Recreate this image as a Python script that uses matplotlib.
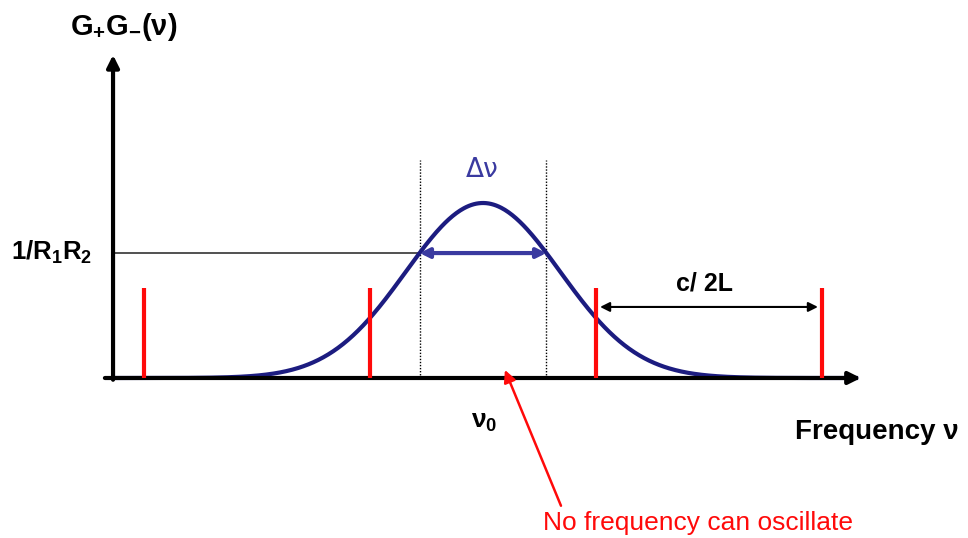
import numpy as np
import matplotlib
matplotlib.use("Agg")
import matplotlib.pyplot as plt

plt.rcParams['font.family'] = ['Liberation Sans', 'DejaVu Sans']
plt.rcParams['mathtext.fontset'] = 'custom'
plt.rcParams['mathtext.rm'] = 'Liberation Sans:bold'
plt.rcParams['mathtext.bf'] = 'Liberation Sans:bold'
plt.rcParams['mathtext.it'] = 'Liberation Sans:bold'

# ---- data (frequency in units of mode spacing c/2L, gain normalized to peak) ----
nu0 = 0.0
gain_peak = 1.0
gain_sigma = 0.342
threshold = 0.714            # 1/R1R2 level
mode_freqs = [-1.5, -0.5, 0.5, 1.5]
mode_heights = [0.514, 0.514, 0.514, 0.514]
nu_min, nu_max = -1.637, 1.66

fig = plt.figure(figsize=(9.68, 5.38), dpi=100)
ax = fig.add_axes([0, 0, 1, 1])
ax.set_xlim((0 - 483) / 226, (968 - 483) / 226)
ax.set_ylim((378 - 538) / 175, 378 / 175)
ax.axis('off')

navy = '#1c1c80'
arrow_blue = '#3a3aa0'
red = '#ff0a0a'

# Gain curve
nu = np.linspace(nu_min, nu_max, 600)
g = gain_peak * np.exp(-(nu - nu0) ** 2 / (2 * gain_sigma ** 2))
ax.plot(nu, g, color=navy, lw=3, zorder=3, solid_capstyle='butt')

# Crossing points with threshold
half = gain_sigma * np.sqrt(2 * np.log(gain_peak / threshold))
x_left, x_right = nu0 - half, nu0 + half

# axes arrows
x_axis_start = -1.673
y_axis_x = -1.637
ax.annotate('', xy=(1.672, 0), xytext=(x_axis_start, 0),
            arrowprops=dict(arrowstyle='-|>', lw=3, color='black',
                            mutation_scale=18, shrinkA=0, shrinkB=0), zorder=4)
ax.annotate('', xy=(y_axis_x, 1.846), xytext=(y_axis_x, -0.01),
            arrowprops=dict(arrowstyle='-|>', lw=3, color='black',
                            mutation_scale=18, shrinkA=0, shrinkB=0), zorder=4)

# Threshold line
ax.plot([y_axis_x, x_left], [threshold, threshold], color='#333333', lw=1.2, zorder=2)

# dotted vertical lines
for xv in (x_left, x_right):
    ax.plot([xv, xv], [0, 1.246], color='black', lw=1, ls=(0, (1, 1.2)), zorder=2)

# Δν arrow
ax.annotate('', xy=(x_right, threshold), xytext=(x_left, threshold),
            arrowprops=dict(arrowstyle='<|-|>', lw=3, color=arrow_blue,
                            mutation_scale=14, shrinkA=0, shrinkB=0), zorder=5)

# Mode lines
for f, h in zip(mode_freqs, mode_heights):
    ax.plot([f, f], [0, h], color=red, lw=3, zorder=4, solid_capstyle='butt')

# c/2L arrow
ax.annotate('', xy=(1.482, 0.406), xytext=(0.518, 0.406),
            arrowprops=dict(arrowstyle='<|-|>', lw=1.5, color='black',
                            mutation_scale=14, shrinkA=0, shrinkB=0), zorder=5)

# Red annotation arrow
ax.annotate('', xy=(0.097, 0.046), xytext=(0.345, -0.73),
            arrowprops=dict(arrowstyle='-|>', lw=1.8, color=red,
                            mutation_scale=18, shrinkA=0, shrinkB=0), zorder=6)

# Texts
ax.text((124 - 483) / 226, (378 - 27) / 175, r'$\mathrm{G_{+}G_{-}(}\nu\mathrm{)}$',
        fontsize=21, ha='center', va='center')
ax.text((92 - 483) / 226, (378 - 252) / 175, r'$\mathrm{1/R_{1}R_{2}}$', fontsize=18.5,
        ha='right', va='center')
ax.text((482 - 483) / 226, (378 - 170) / 175, 'Δν', fontsize=19, color=arrow_blue,
        ha='center', va='center', family=['DejaVu Sans'])
ax.text((704 - 483) / 226, (378 - 283) / 175, 'c/ 2L', fontsize=18, fontweight='bold',
        ha='center', va='center')
ax.text((484 - 483) / 226, (378 - 422) / 175, r'$\nu_{0}$', fontsize=19,
        ha='center', va='center')
ax.text((877 - 483) / 226, (378 - 432) / 175, 'Frequency ν', fontsize=20,
        fontweight='bold', ha='center', va='center')
ax.text((698 - 483) / 226, (378 - 523) / 175, 'No frequency can oscillate',
        fontsize=19, color=red, ha='center', va='center')

fig.savefig('out.png', dpi=100)
